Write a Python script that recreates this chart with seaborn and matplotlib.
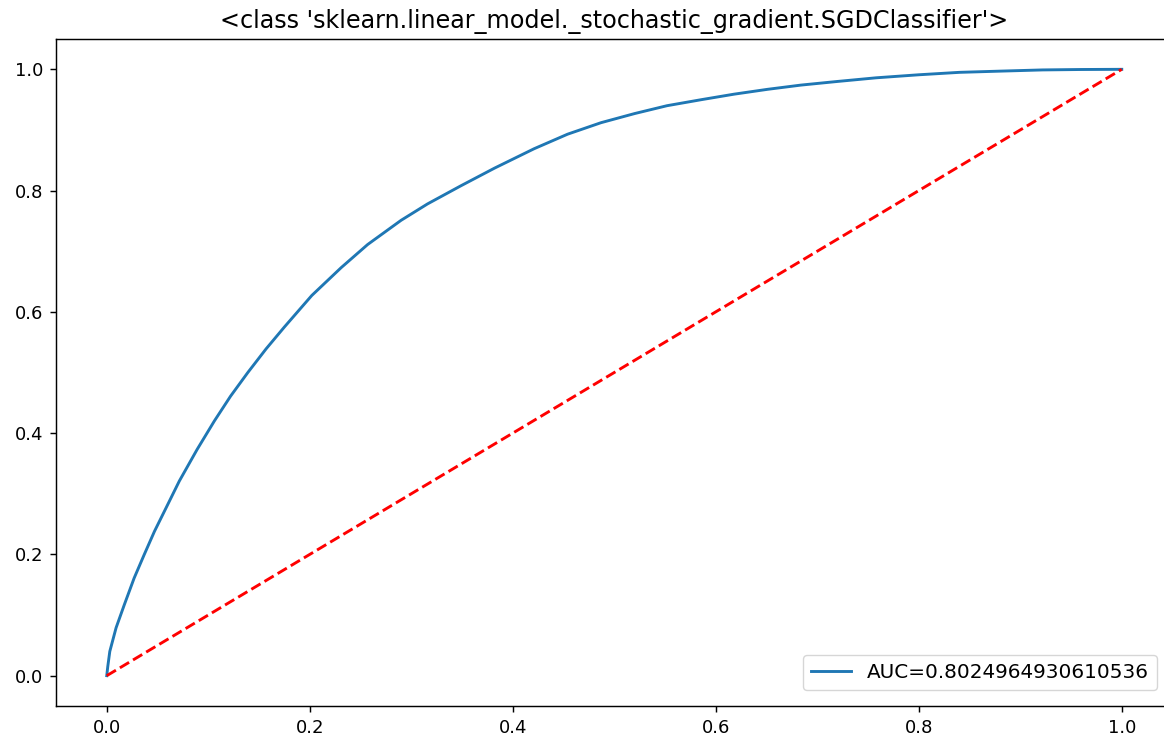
import matplotlib
matplotlib.use("Agg")
import matplotlib.pyplot as plt
import seaborn as sns
import pandas as pd

# ROC curve
fpr = [0.0, 0.001, 0.003, 0.0092, 0.0173, 0.027, 0.037, 0.047, 0.060, 0.0715,
       0.089, 0.106, 0.122, 0.139, 0.157, 0.175, 0.202, 0.231, 0.257, 0.290,
       0.316, 0.349, 0.382, 0.421, 0.454, 0.487, 0.520, 0.552, 0.586, 0.618,
       0.651, 0.684, 0.720, 0.758, 0.800, 0.840, 0.880, 0.922, 0.960, 1.0]
tpr = [0.0, 0.015, 0.040, 0.079, 0.117, 0.161, 0.200, 0.238, 0.282, 0.321,
       0.373, 0.420, 0.461, 0.500, 0.539, 0.575, 0.627, 0.673, 0.711, 0.751,
       0.778, 0.808, 0.837, 0.869, 0.893, 0.912, 0.927, 0.940, 0.950, 0.959,
       0.967, 0.974, 0.980, 0.986, 0.991, 0.995, 0.997, 0.999, 0.9997, 1.0]
diag_x = [0.0, 1.0]
diag_y = [0.0, 1.0]
auc_label = "AUC=0.8024964930610536"
title = "<class 'sklearn.linear_model._stochastic_gradient.SGDClassifier'>"

s = 1.3
plt.rcParams.update({
    "font.size": 10 * s,
    "axes.linewidth": 0.8 * s,
    "xtick.major.size": 3.5 * s,
    "ytick.major.size": 3.5 * s,
    "xtick.major.width": 0.8 * s,
    "ytick.major.width": 0.8 * s,
    "xtick.major.pad": 3.5 * s,
    "ytick.major.pad": 3.5 * s,
})

fig = plt.figure(figsize=(11.64, 7.38), dpi=100)
ax = fig.add_axes([56 / 1164, 32 / 738, 1116.5 / 1164, 667 / 738])

roc = pd.DataFrame({"fpr": fpr, "tpr": tpr})
diag = pd.DataFrame({"x": diag_x, "y": diag_y})

sns.lineplot(data=roc, x="fpr", y="tpr", ax=ax, sort=False, estimator=None,
             color="#1f77b4", linewidth=1.6 * s, label=auc_label)
sns.lineplot(data=diag, x="x", y="y", ax=ax, sort=False, estimator=None,
             color="red", linewidth=1.6 * s, linestyle="--")

ax.set_xlabel("")
ax.set_ylabel("")
ax.set_xlim(-0.05, 1.05)
ax.set_ylim(-0.05, 1.05)
ax.set_xticks([0.0, 0.2, 0.4, 0.6, 0.8, 1.0])
ax.set_yticks([0.0, 0.2, 0.4, 0.6, 0.8, 1.0])
ax.spines["right"].set_visible(False)
ax.set_title(title, fontsize=17.2, pad=8)
ax.legend(loc="lower right", fontsize=14.4, borderaxespad=0.8)

fig.savefig("out.png", dpi=100)
